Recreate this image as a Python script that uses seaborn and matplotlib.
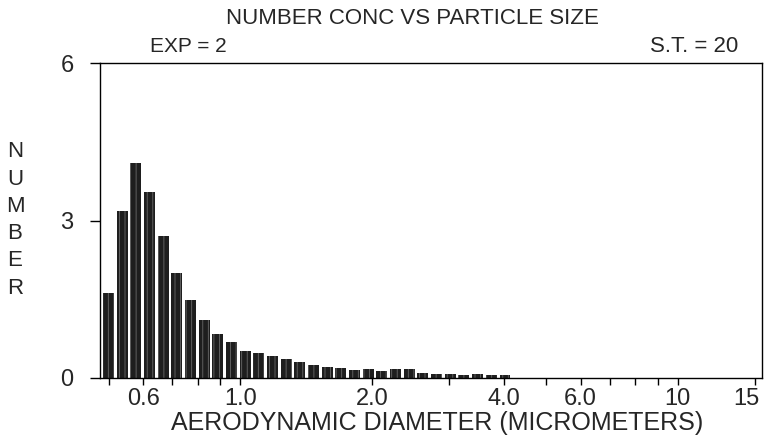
import numpy as np
import pandas as pd
import seaborn as sns
import matplotlib.pyplot as plt
from matplotlib.ticker import FixedLocator, FixedFormatter, NullFormatter
from matplotlib.transforms import ScaledTranslation

# channel mid diameters (micrometers)
diameters = [0.50, 0.54, 0.58, 0.62, 0.67, 0.72, 0.77, 0.83, 0.89, 0.96,
             1.03, 1.10, 1.19, 1.27, 1.37, 1.47, 1.58, 1.70, 1.83, 1.96,
             2.11, 2.27, 2.43, 2.62, 2.81, 3.02, 3.25, 3.49, 3.75, 4.03]
# number concentration per channel
counts = [1.62, 3.19, 4.09, 3.55, 2.71, 2.00, 1.49, 1.10, 0.84, 0.69,
          0.52, 0.48, 0.42, 0.37, 0.31, 0.24, 0.21, 0.20, 0.16, 0.17,
          0.14, 0.18, 0.17, 0.10, 0.08, 0.07, 0.06, 0.07, 0.06, 0.05]

major_ticks = [0.6, 1.0, 2.0, 4.0, 6.0, 10, 15]
major_labels = ["0.6", "1.0", "2.0", "4.0", "6.0", "10", "15"]
minor_ticks = [0.5, 0.7, 0.8, 0.9, 3.0, 5.0, 7.0, 8.0, 9.0]
y_ticks = [0, 3, 6]

df = pd.DataFrame({"diameter": diameters, "count": counts})

sns.set_style("ticks")
plt.rcParams["font.family"] = ["Liberation Sans", "DejaVu Sans"]
plt.rcParams["hatch.linewidth"] = 0.6

fig = plt.figure(figsize=(7.66, 4.43), dpi=100)
ax = fig.add_axes([100 / 766, 65 / 443, 662 / 766, 315 / 443])

# 32 channels per decade -> bin width 1/32 in log10 units
step = 1 / 32
lo = np.log10(diameters[0]) - step / 2
hi = np.log10(diameters[-1]) + step / 2
sns.histplot(data=df, x="diameter", weights="count", log_scale=True,
             binwidth=step, binrange=(lo, hi), shrink=0.8,
             color="#1e1e1e", alpha=1, linewidth=0, ax=ax)
for p in ax.patches:
    p.set_hatch("|||")
    p.set_edgecolor("#6a6a6a")

ax.set_xlim(0.478, 15.6)
ax.set_ylim(0, 6)

ax.xaxis.set_major_locator(FixedLocator(major_ticks))
ax.xaxis.set_major_formatter(FixedFormatter(major_labels))
ax.xaxis.set_minor_locator(FixedLocator(minor_ticks))
ax.xaxis.set_minor_formatter(NullFormatter())
ax.set_yticks(y_ticks)
ax.set_yticklabels([str(v) for v in y_ticks])

ax.tick_params(axis="x", which="both", direction="out", length=5, width=1,
               labelsize=17, pad=2, color="black")
ax.tick_params(axis="y", direction="out", length=7, width=1,
               labelsize=17, pad=12, color="black")
ax.set_xlabel("")
ax.set_ylabel("")

# the last label sits a little left of its tick in the original
last = ax.xaxis.get_major_ticks()[-1].label1
last.set_transform(last.get_transform() + ScaledTranslation(-8 / 100, 0, fig.dpi_scale_trans))

for s in ax.spines.values():
    s.set_visible(True)
    s.set_color("black")
    s.set_linewidth(1)

fig.text(412 / 766, 1 - 18 / 443, "NUMBER CONC VS PARTICLE SIZE",
         ha="center", va="center", fontsize=16)
fig.text(150 / 766, 1 - 47 / 443, "EXP = 2", ha="left", va="center", fontsize=15)
fig.text(738 / 766, 1 - 47 / 443, "S.T. = 20", ha="right", va="center", fontsize=16)
fig.text(437 / 766, 1 - 423 / 443, "AERODYNAMIC DIAMETER (MICROMETERS)",
         ha="center", va="center", fontsize=18)
fig.text(15 / 766, 1 - 220 / 443, "N\nU\nM\nB\nE\nR",
         ha="center", va="center", fontsize=16, linespacing=1.39)

fig.savefig("out.png", dpi=100)
